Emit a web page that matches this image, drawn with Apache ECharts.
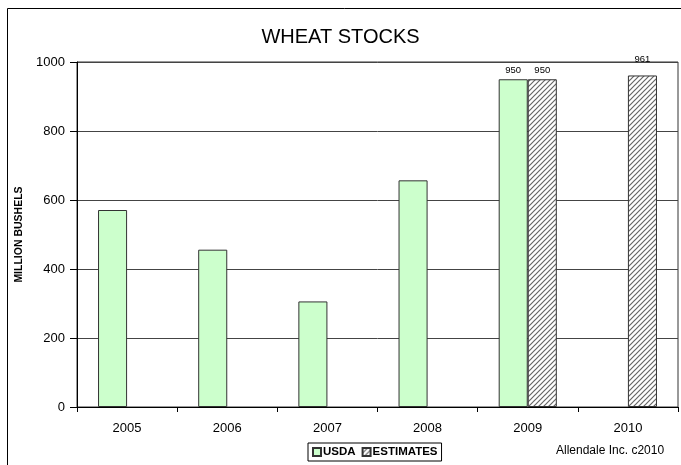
<!DOCTYPE html>
<html><head><meta charset="utf-8">
<script src="https://cdn.jsdelivr.net/npm/echarts@6/dist/echarts.min.js"></script>
<style>html,body{margin:0;padding:0;background:#fff}#c{width:681px;height:465px}</style>
</head><body><div id="c"></div>
<script>
const categories = ['2005','2006','2007','2008','2009','2010'];
const usda = [571, 456, 306, 657, 950, null];
const estimates = [null, null, null, null, 950, 961];
const yTicks = [0, 200, 400, 600, 800, 1000];
const usdaLabeled = ['2009'];
const estLabeled = ['2009','2010'];

function hatch(){
  const c = document.createElement('canvas');
  c.width = 5; c.height = 5;
  const g = c.getContext('2d');
  g.fillStyle = '#fff'; g.fillRect(0,0,5,5);
  g.strokeStyle = '#666'; g.lineWidth = 1.2;
  g.beginPath();
  g.moveTo(0,5); g.lineTo(5,0);
  g.moveTo(-2.5,2.5); g.lineTo(2.5,-2.5);
  g.moveTo(2.5,7.5); g.lineTo(7.5,2.5);
  g.stroke();
  return c;
}
const pat = {image: hatch(), repeat: 'repeat'};
const font = 'Liberation Sans, Arial, sans-serif';
const lab = {show:true, position:'top', fontSize:9.5, color:'#000', fontFamily:font, distance:4};
const labHigh = Object.assign({}, lab, {distance:11});

const chart = echarts.init(document.getElementById('c'), null, {renderer:'canvas'});
chart.setOption({
  animation:false,
  textStyle:{fontFamily:font},
  title:{text:'WHEAT STOCKS', left:'center', top:22, textStyle:{fontSize:20, fontWeight:'normal', color:'#000', fontFamily:font}},
  grid:{left:77, right:3, top:62, bottom:58, show:true, borderColor:'#333', borderWidth:1, backgroundColor:'transparent'},
  legend:{top:443, left:308, data:['USDA','ESTIMATES'], icon:'rect', itemWidth:8, itemHeight:8, itemGap:6,
    borderColor:'#000', borderWidth:1, padding:[3,4,3,4],
    textStyle:{fontSize:11.5, fontWeight:'bold', color:'#000', fontFamily:font, padding:[0,0,0,-3]}},
  xAxis:{type:'category', data:categories,
    axisLine:{lineStyle:{color:'#000'}},
    axisTick:{show:true, length:5, lineStyle:{color:'#000'}},
    axisLabel:{fontSize:13, color:'#000', margin:15, fontFamily:font}},
  yAxis:{type:'value', min:0, max:1000, interval:200,
    name:'MILLION BUSHELS', nameLocation:'middle', nameGap:52,
    nameTextStyle:{fontSize:10.5, fontWeight:'bold', color:'#000', fontFamily:font},
    axisLine:{show:true, lineStyle:{color:'#000'}},
    axisTick:{show:true, inside:false, length:7, lineStyle:{color:'#000'}},
    axisLabel:{fontSize:13, color:'#000', margin:12, fontFamily:font,
      formatter:v=> yTicks.includes(v) ? String(v) : ''},
    splitLine:{lineStyle:{color:'#444', width:1}}},
  series:[
    {name:'USDA', type:'bar', barGap:'0%', barCategoryGap:'42%',
      itemStyle:{color:'#ccffcc', borderColor:'#333', borderWidth:1},
      data: usda.map((v,i)=> usdaLabeled.includes(categories[i]) ? {value:v, label:lab} : v)},
    {name:'ESTIMATES', type:'bar', barGap:'0%', barCategoryGap:'42%',
      itemStyle:{color:pat, borderColor:'#333', borderWidth:1},
      data: estimates.map((v,i)=> estLabeled.includes(categories[i]) ? {value:v, label: categories[i]==='2010' ? labHigh : lab} : v)}
  ],
  graphic:[
    {type:'rect', shape:{x:7.5, y:8.5, width:700, height:500}, style:{fill:'none', stroke:'#000', lineWidth:1}, silent:true, z:-1},
    {type:'text', left:556, top:445, style:{text:'Allendale Inc. c2010', fontSize:12, fill:'#000', fontFamily:font}}
  ]
});
</script></body></html>
